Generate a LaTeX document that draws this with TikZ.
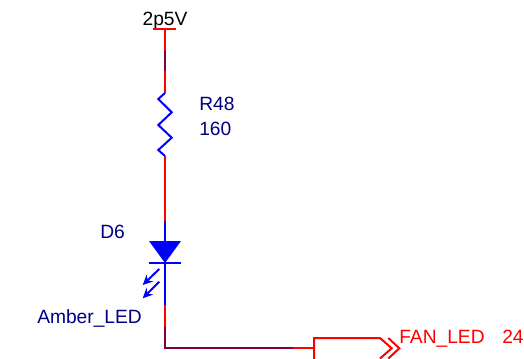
\documentclass[tikz,border=0pt]{standalone}
\usepackage{xcolor}
\usepackage{fontspec}
\setmainfont{Liberation Sans}
\usetikzlibrary{arrows.meta}
\definecolor{wirered}{RGB}{255, 0, 0}
\definecolor{partblue}{RGB}{0, 0, 255}
\definecolor{labelnavy}{RGB}{0, 0, 128}
\definecolor{netpurple}{RGB}{128, 0, 64}

\begin{document}
\begin{tikzpicture}[
    x=0.75pt, y=-0.75pt,
    wire/.style={draw=wirered, line width=1.5pt},
    netwire/.style={draw=netpurple, line width=1.5pt},
    partline/.style={draw=partblue, line width=1.5pt},
    ledarrow/.style={draw=partblue, line width=1.5pt, -{Stealth[length=7.5pt, width=7pt]}},
    pin/.style={coordinate},
    partlabel/.style={anchor=base west, inner sep=0pt, text=labelnavy, font=\fontsize{14.4}{16}\selectfont},
    netlabel/.style={anchor=base west, inner sep=0pt, text=wirered, font=\fontsize{14.4}{16}\selectfont}
]
    \useasboundingbox (0,0) rectangle (524,358);
    \clip (0,0) rectangle (524,358);

    % Wire points
    \node[pin] (railL) at (153,29) {};
    \node[pin] (railR) at (176,29) {};
    \node[pin] (rail) at (165,29) {};
    \node[pin] (netA) at (165,51) {};
    \node[pin] (netB) at (165,71) {};
    \node[pin] (resTop) at (165,93) {};
    \node[pin] (resBot) at (165,156) {};
    \node[pin] (ledIn) at (165,221) {};
    \node[pin] (ledTop) at (165,241) {};
    \node[pin] (ledBar) at (165,263) {};
    \node[pin] (ledOut) at (165,305) {};
    \node[pin] (netC) at (165,327) {};
    \node[pin] (corner) at (165,348) {};
    \node[pin] (netD) at (293,348) {};
    \node[pin] (portIn) at (314,348) {};

    % Labels
    \node[anchor=base, inner sep=0pt, font=\fontsize{14.4}{16}\selectfont] (power) at (165,25) {2p5V};
    \node[partlabel] (refR) at (199,110) {R48};
    \node[partlabel] (valR) at (199,135) {160};
    \node[partlabel] (refD) at (100,238) {D6};
    \node[partlabel] (valD) at (37,323) {Amber\_LED};
    \node[netlabel] (fan) at (399,343) {FAN\_LED};
    \node[netlabel] (sheet) at (502,343) {24};

    % Power rail and wires
    \draw[wire] (railL) -- (railR);
    \draw[wire] (rail) -- (netA);
    \draw[netwire] (netA) -- (netB);
    \draw[wire] (netB) -- (resTop);
    \draw[wire] (resBot) -- (ledIn);
    \draw[wire] (ledOut) -- (netC);
    \draw[netwire] (netC) -- (corner) -- (netD);
    \draw[wire] (netD) -- (portIn);

    % Resistor
    \draw[partline] (resTop) -- (158.3,99) -- (171.7,112.3) -- (158.3,125)
        -- (171.7,137.7) -- (158.3,150) -- (resBot);

    % LED
    \draw[partline] (ledIn) -- (ledTop);
    \draw[partline] (ledBar) -- (ledOut);
    \fill[partblue] (149,241) -- (181,241) -- (ledBar) -- cycle;
    \draw[partline] (149,263) -- (181,263);
    \draw[ledarrow] (159.3,269) -- (142.7,285);
    \draw[ledarrow] (159.3,281.7) -- (142.7,298.3);

    % Off-page port
    \draw[wire] (314,370) -- (314,338) -- (380,338) -- (391.7,348.3) -- (380,358.5);
    \draw[wire] (388.3,338) -- (399.3,348.3) -- (388.3,358.5);
\end{tikzpicture}
\end{document}
